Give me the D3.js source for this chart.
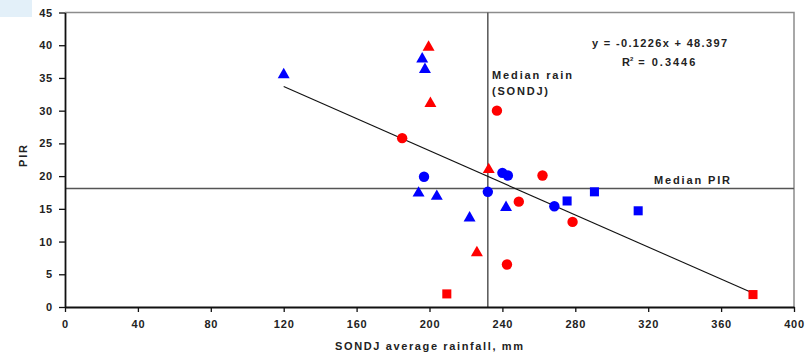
<!DOCTYPE html>
<html>
<head>
<meta charset="utf-8">
<script src="https://cdn.jsdelivr.net/npm/d3@7"></script>
<style>
body { margin: 0; background: #fff; }
svg text { font-family: Arial, "Liberation Sans", sans-serif; font-weight: bold; fill: #222; }
</style>
</head>
<body>
<svg id="chart" width="810" height="355"></svg>
<script>
// values: [rainfall mm, PIR]
const blueTriangles = [[120, 35.5], [196, 37.9], [197.5, 36.3], [194, 17.4], [204, 16.9], [222, 13.6], [242, 15.2]];
const redTriangles = [[199.5, 39.7], [200.5, 31.1], [232.5, 21.0], [226, 8.3]];
const redCircles = [[185, 25.8], [237, 30.0], [262, 20.1], [249, 16.1], [242.5, 6.5], [278.5, 13.0]];
const blueCircles = [[197, 19.9], [232, 17.6], [240, 20.5], [243, 20.1], [268.5, 15.4]];
const blueSquares = [[275.5, 16.2], [290.5, 17.6], [314.5, 14.7]];
const redSquares = [[209.5, 2.0], [377.5, 1.9]];

const medianRain = 232;
const medianPIR = 18.1;
const slope = -0.1226, intercept = 48.397;
const trendRange = [120, 378];

const xTicks = [0, 40, 80, 120, 160, 200, 240, 280, 320, 360, 400];
const yTicks = [0, 5, 10, 15, 20, 25, 30, 35, 40, 45];

const svg = d3.select("#chart");
const plotLeft = 65, plotRight = 794, plotTop = 12.5, plotBottom = 307;

const x = d3.scaleLinear().domain([0, 400]).range([plotLeft, plotRight]);
const y = d3.scaleLinear().domain([0, 45]).range([plotBottom, plotTop]);

// little light-blue box top left
svg.append("rect").attr("x", 0).attr("y", 0).attr("width", 32).attr("height", 17).attr("fill", "#e3f0f9");

// frame (top + right gray)
svg.append("path")
    .attr("d", `M${plotLeft},${plotTop}H${plotRight}V${plotBottom}`)
    .attr("fill", "none").attr("stroke", "#8c8c8c").attr("stroke-width", 1.5);

// median lines
svg.append("line")
    .attr("x1", plotLeft).attr("x2", plotRight).attr("y1", y(medianPIR)).attr("y2", y(medianPIR))
    .attr("stroke", "#555").attr("stroke-width", 1.5);
svg.append("line")
    .attr("x1", x(medianRain)).attr("x2", x(medianRain)).attr("y1", plotTop).attr("y2", plotBottom)
    .attr("stroke", "#555").attr("stroke-width", 1.5);

// axes
const xAxis = svg.append("g").attr("transform", `translate(0,${plotBottom})`)
    .call(d3.axisBottom(x).tickValues(xTicks).tickSize(5).tickPadding(8).tickSizeOuter(0));
const yAxis = svg.append("g").attr("transform", `translate(${plotLeft},0)`)
    .call(d3.axisLeft(y).tickValues(yTicks).tickSize(6).tickPadding(6).tickSizeOuter(0));
[xAxis, yAxis].forEach(a => {
    a.select(".domain").attr("stroke", "#111").attr("stroke-width", 1.8);
    a.selectAll(".tick line").attr("stroke", "#111").attr("stroke-width", 1.3);
    a.selectAll(".tick text").attr("font-size", 11).attr("fill", "#222").attr("letter-spacing", 0.8)
        .attr("font-family", "Arial, 'Liberation Sans', sans-serif").attr("font-weight", "bold");
});

// trend line
svg.append("line")
    .attr("x1", x(trendRange[0])).attr("y1", y(slope * trendRange[0] + intercept))
    .attr("x2", x(trendRange[1])).attr("y2", y(slope * trendRange[1] + intercept))
    .attr("stroke", "#111").attr("stroke-width", 1.1);

const blue = "#0000ff", red = "#ff0000";
function drawSeries(data, type, size, color) {
    svg.append("g").selectAll("path")
        .data(data)
        .join("path")
        .attr("d", d3.symbol().type(type).size(size))
        .attr("transform", d => `translate(${x(d[0])},${y(d[1])})`)
        .attr("fill", color);
}
drawSeries(blueTriangles, d3.symbolTriangle, 62, blue);
drawSeries(redTriangles, d3.symbolTriangle, 62, red);
drawSeries(redCircles, d3.symbolCircle, 85, red);
drawSeries(blueCircles, d3.symbolCircle, 85, blue);
drawSeries(blueSquares, d3.symbolSquare, 82, blue);
drawSeries(redSquares, d3.symbolSquare, 82, red);

// labels, stretched to the widths seen in the picture
function label(tx, ty, str, width, anchor) {
    return svg.append("text").attr("x", tx).attr("y", ty).attr("font-size", 11)
        .attr("text-anchor", anchor || "start")
        .attr("textLength", width).attr("lengthAdjust", "spacing").text(str);
}
label(592, 47, "y = -0.1226x + 48.397", 135);
const r2 = svg.append("text").attr("x", 622).attr("y", 66).attr("font-size", 11);
r2.append("tspan").text("R");
r2.append("tspan").attr("font-size", 6).attr("dy", -5).text("2");
r2.append("tspan").attr("dy", 5).attr("textLength", 62).attr("lengthAdjust", "spacing").text(" = 0.3446");

label(492, 79, "Median rain", 80);
label(492, 95, "(SONDJ)", 56);
label(654, 184, "Median PIR", 76);

label(335, 350, "SONDJ average rainfall, mm", 188);
svg.append("text").attr("transform", "translate(27,167) rotate(-90)").attr("font-size", 11)
    .attr("textLength", 22).attr("lengthAdjust", "spacing").text("PIR");
</script>
</body>
</html>
